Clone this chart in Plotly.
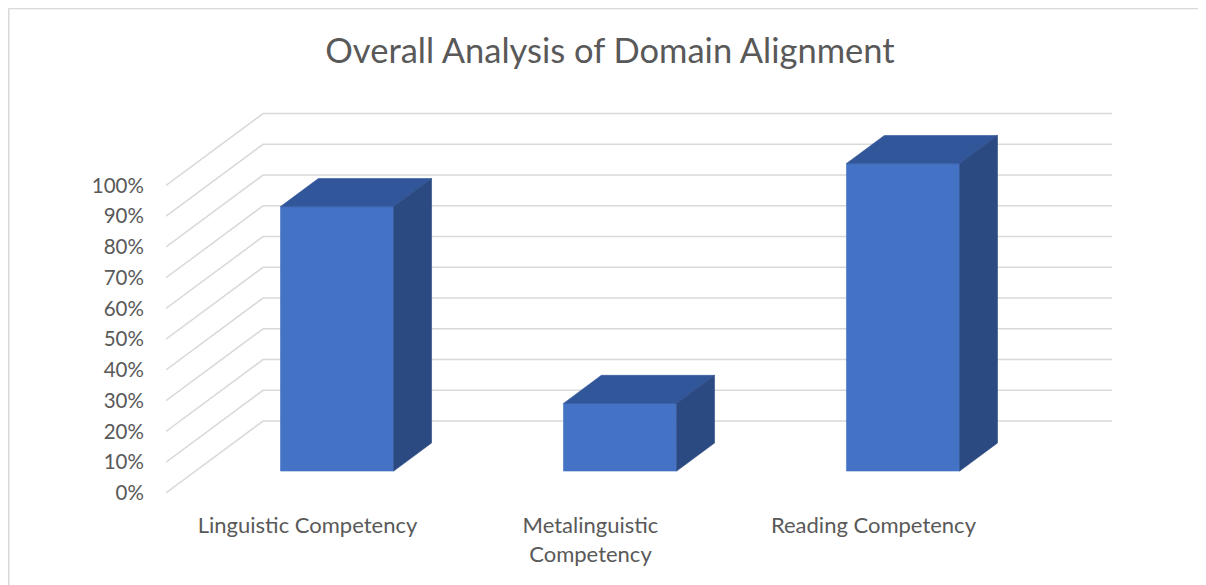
import plotly.graph_objects as go

# ---- data ----
categories = ["Linguistic Competency", "Metalinguistic<br>Competency", "Reading Competency"]
values = [0.86, 0.22, 1.00]
tick_values = [0, 0.1, 0.2, 0.3, 0.4, 0.5, 0.6, 0.7, 0.8, 0.9, 1.0]
tick_labels = ["0%", "10%", "20%", "30%", "40%", "50%", "60%", "70%", "80%", "90%", "100%"]
title_text = "Overall Analysis of Domain Alignment"

# ---- oblique 3D projection parameters (in axis units) ----
DX = 0.343   # full depth shift along x (category units)
DY = 0.234   # full depth shift along y (value units)
Z0, Z1 = 0.305, 0.695  # bar front/back depth fractions
W = 0.40     # bar width (category units)

FONT = "Lato"
TXT = "#595959"
GRID = "#D9D9D9"
FRONT = "#4472C4"
TOP = "#31569A"
SIDE = "#2B4A81"

n = len(categories)
x_left, x_right = -0.5, n - 0.5

fig = go.Figure()

# gridlines: front-left diagonal + back wall horizontal
gx, gy = [], []
for v in tick_values:
    gx += [x_left, x_left + DX, x_right + DX, None]
    gy += [v, v + DY, v + DY, None]
fig.add_trace(go.Scatter(x=gx, y=gy, mode="lines",
                         line=dict(color=GRID, width=1.5),
                         hoverinfo="skip", showlegend=False))


def poly(xs, ys, color):
    fig.add_trace(go.Scatter(x=xs + [xs[0]], y=ys + [ys[0]], mode="lines",
                             fill="toself", fillcolor=color,
                             line=dict(color=color, width=0.6),
                             hoverinfo="skip", showlegend=False))


for i, h in enumerate(values):
    xl = i - W / 2 + Z0 * DX
    xr = i + W / 2 + Z0 * DX
    yb = Z0 * DY
    yt = h + Z0 * DY
    ddx = (Z1 - Z0) * DX
    ddy = (Z1 - Z0) * DY
    # front face
    poly([xl, xr, xr, xl], [yb, yb, yt, yt], FRONT)
    # top face
    poly([xl, xr, xr + ddx, xl + ddx], [yt, yt, yt + ddy, yt + ddy], TOP)
    # right side face
    poly([xr, xr + ddx, xr + ddx, xr], [yb, yb + ddy, yt + ddy, yt], SIDE)

FW, FH = 1198, 577
PL, PR, PT, PB = 158, 94, 92, 85
PX_PER_UNIT_Y = 307.5
plot_w = FW - PL - PR
plot_h = FH - PT - PB
fig.update_layout(
    width=FW, height=FH, autosize=False,
    margin=dict(l=PL, r=PR, t=PT, b=PB),
    paper_bgcolor="white", plot_bgcolor="white",
    font=dict(family=FONT, color=TXT, size=22),
    title=dict(text=title_text, xref="container", yref="container",
               x=602 / FW, y=1 - 43 / FH, xanchor="center", yanchor="middle",
               font=dict(family=FONT, size=34.5, color=TXT)),
    xaxis=dict(range=[x_left, x_right + DX], showgrid=False, zeroline=False,
               showline=False, tickvals=list(range(n)), ticktext=categories,
               ticks="outside", ticklen=6, tickcolor="rgba(0,0,0,0)",
               tickfont=dict(family=FONT, size=22, color=TXT), fixedrange=True),
    yaxis=dict(range=[-7 / PX_PER_UNIT_Y, (plot_h - 7) / PX_PER_UNIT_Y], showgrid=False,
               zeroline=False, showline=False, tickvals=tick_values,
               ticktext=tick_labels, ticks="outside", ticklen=17,
               tickcolor="rgba(0,0,0,0)",
               tickfont=dict(family=FONT, size=20.5, color=TXT), fixedrange=True),
    shapes=[
        dict(type="line", xref="paper", yref="paper",
             x0=(0.5 - PL) / plot_w, x1=(0.5 - PL) / plot_w,
             y0=1 + (PT - 0.5) / plot_h, y1=-0.3,
             line=dict(color=GRID, width=2)),
        dict(type="line", xref="paper", yref="paper",
             x0=(0.5 - PL) / plot_w, x1=1.2,
             y0=1 + (PT - 0.5) / plot_h, y1=1 + (PT - 0.5) / plot_h,
             line=dict(color=GRID, width=1.5)),
    ],
)

fig.write_html("out.html")
